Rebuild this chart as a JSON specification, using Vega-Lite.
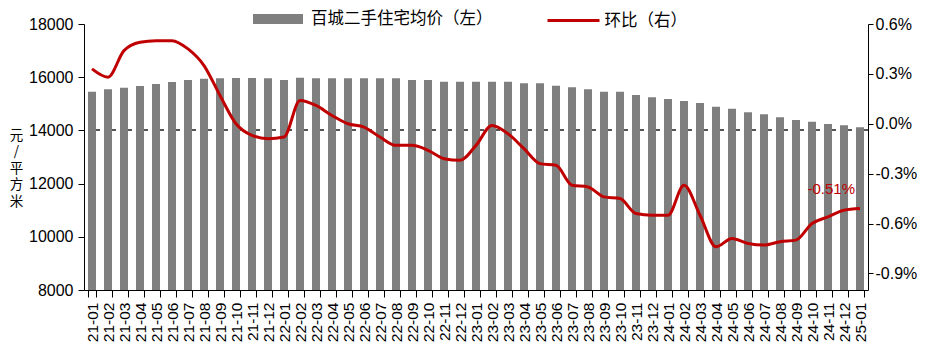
{
  "$schema": "https://vega.github.io/schema/vega-lite/v6.json",
  "width": 784,
  "height": 266,
  "autosize": {"type": "none"},
  "padding": {"left": 84, "top": 24, "right": 67, "bottom": 69},
  "background": "white",
  "config": {
    "view": {"stroke": null},
    "font": "Liberation Sans, Noto Sans CJK SC, sans-serif",
    "axis": {"domainColor": "#000", "tickColor": "#000", "labelColor": "#000", "titleColor": "#000", "grid": false, "labelFont": "Liberation Sans, Noto Sans CJK SC, sans-serif", "titleFont": "Noto Sans CJK SC, sans-serif"},
    "legend": {"labelFont": "Noto Sans CJK SC, sans-serif", "labelColor": "#000"}
  },
  "data": {"values": [
    {"month": "21-01", "price": 15456, "mom": 0.33},
    {"month": "21-02", "price": 15544, "mom": 0.28},
    {"month": "21-03", "price": 15607, "mom": 0.44},
    {"month": "21-04", "price": 15669, "mom": 0.49},
    {"month": "21-05", "price": 15744, "mom": 0.50},
    {"month": "21-06", "price": 15820, "mom": 0.50},
    {"month": "21-07", "price": 15895, "mom": 0.45},
    {"month": "21-08", "price": 15945, "mom": 0.35},
    {"month": "21-09", "price": 15957, "mom": 0.17},
    {"month": "21-10", "price": 15970, "mom": 0.00},
    {"month": "21-11", "price": 15970, "mom": -0.07},
    {"month": "21-12", "price": 15957, "mom": -0.09},
    {"month": "22-01", "price": 15895, "mom": -0.08},
    {"month": "22-02", "price": 15982, "mom": 0.14},
    {"month": "22-03", "price": 15957, "mom": 0.11},
    {"month": "22-04", "price": 15957, "mom": 0.05},
    {"month": "22-05", "price": 15957, "mom": 0.00},
    {"month": "22-06", "price": 15957, "mom": -0.02},
    {"month": "22-07", "price": 15957, "mom": -0.08},
    {"month": "22-08", "price": 15957, "mom": -0.13},
    {"month": "22-09", "price": 15895, "mom": -0.13},
    {"month": "22-10", "price": 15895, "mom": -0.16},
    {"month": "22-11", "price": 15832, "mom": -0.21},
    {"month": "22-12", "price": 15832, "mom": -0.22},
    {"month": "23-01", "price": 15832, "mom": -0.13},
    {"month": "23-02", "price": 15832, "mom": -0.01},
    {"month": "23-03", "price": 15832, "mom": -0.06},
    {"month": "23-04", "price": 15770, "mom": -0.15},
    {"month": "23-05", "price": 15770, "mom": -0.24},
    {"month": "23-06", "price": 15682, "mom": -0.25},
    {"month": "23-07", "price": 15619, "mom": -0.37},
    {"month": "23-08", "price": 15544, "mom": -0.38},
    {"month": "23-09", "price": 15456, "mom": -0.44},
    {"month": "23-10", "price": 15456, "mom": -0.45},
    {"month": "23-11", "price": 15331, "mom": -0.54},
    {"month": "23-12", "price": 15243, "mom": -0.55},
    {"month": "24-01", "price": 15180, "mom": -0.55},
    {"month": "24-02", "price": 15105, "mom": -0.37},
    {"month": "24-03", "price": 15030, "mom": -0.55},
    {"month": "24-04", "price": 14892, "mom": -0.74},
    {"month": "24-05", "price": 14817, "mom": -0.69},
    {"month": "24-06", "price": 14679, "mom": -0.72},
    {"month": "24-07", "price": 14604, "mom": -0.73},
    {"month": "24-08", "price": 14491, "mom": -0.71},
    {"month": "24-09", "price": 14391, "mom": -0.70},
    {"month": "24-10", "price": 14328, "mom": -0.60},
    {"month": "24-11", "price": 14241, "mom": -0.56},
    {"month": "24-12", "price": 14191, "mom": -0.52},
    {"month": "25-01", "price": 14115, "mom": -0.51}
  ]},
  "encoding": {
    "x": {
      "field": "month", "type": "ordinal", "sort": null,
      "scale": {"paddingInner": 0.5, "paddingOuter": 0.25},
      "axis": {"title": null, "labelAngle": -90, "labelFontSize": 15.5, "tickBand": "extent", "tickSize": 7, "labelPadding": 5, "labelOverlap": false, "labelBound": false}
    }
  },
  "layer": [
    {"layer": [
      {"mark": {"type": "rule", "strokeDash": [4, 4], "color": "#555555", "strokeWidth": 1},
       "encoding": {"x": null, "y": {"datum": 14000, "type": "quantitative", "scale": {"domain": [8000, 18000], "zero": false}}}},
      {"mark": {"type": "bar", "width": 8, "color": "#7f7f7f", "clip": true},
       "encoding": {
         "y": {"field": "price", "type": "quantitative", "scale": {"domain": [8000, 18000], "zero": false},
               "axis": {"title": ["元", "/", "平", "方", "米"], "titleAngle": 0, "titleX": -68, "titleY": 104, "titleAlign": "center", "titleBaseline": "top", "titleFontSize": 13.5, "titleLineHeight": 16.5, "titleFontWeight": "normal", "values": [8000, 10000, 12000, 14000, 16000, 18000], "format": "d", "labelFontSize": 16, "tickSize": 6, "labelPadding": 5}},
         "color": {"datum": "百城二手住宅均价（左）", "type": "nominal", "scale": {"range": ["#7f7f7f"]},
                   "legend": {"orient": "none", "legendX": 184, "legendY": -15, "title": null, "symbolType": "M-2.5,-0.5H2.5V0.5H-2.5Z", "symbolSize": 400, "symbolStrokeWidth": 0, "symbolOpacity": 1, "labelFontSize": 16.5, "labelOffset": 23, "labelLimit": 400, "padding": 0}}
       }}
    ]},
    {"layer": [
      {"mark": {"type": "line", "interpolate": "monotone", "strokeWidth": 3},
       "encoding": {
         "y": {"field": "mom", "type": "quantitative", "scale": {"domain": [-0.9, 0.6]},
               "axis": {"orient": "right", "title": null, "values": [-0.9, -0.6, -0.3, 0, 0.3, 0.6], "labelExpr": "replace(format(datum.value, '.1f'), '\u2212', '-') + '%'", "labelFontSize": 16, "tickSize": 5, "labelPadding": 2}},
         "stroke": {"datum": "环比（右）", "type": "nominal", "scale": {"range": ["#c00000"]},
                    "legend": {"orient": "none", "legendX": 478, "legendY": -15, "title": null, "symbolType": "M-2.6,0H2.6", "symbolSize": 400, "symbolStrokeWidth": 3, "labelFontSize": 16.5, "labelOffset": 19.5, "labelLimit": 400, "padding": 0}}
       }},
      {"transform": [{"filter": "datum.month == '25-01'"}],
       "mark": {"type": "text", "align": "right", "baseline": "middle", "dx": -5, "dy": -20, "fontSize": 15, "color": "#c00000", "font": "Liberation Sans, sans-serif"},
       "encoding": {"y": {"field": "mom", "type": "quantitative"}, "text": {"value": "-0.51%"}}}
    ]}
  ],
  "resolve": {"scale": {"y": "independent"}}
}
